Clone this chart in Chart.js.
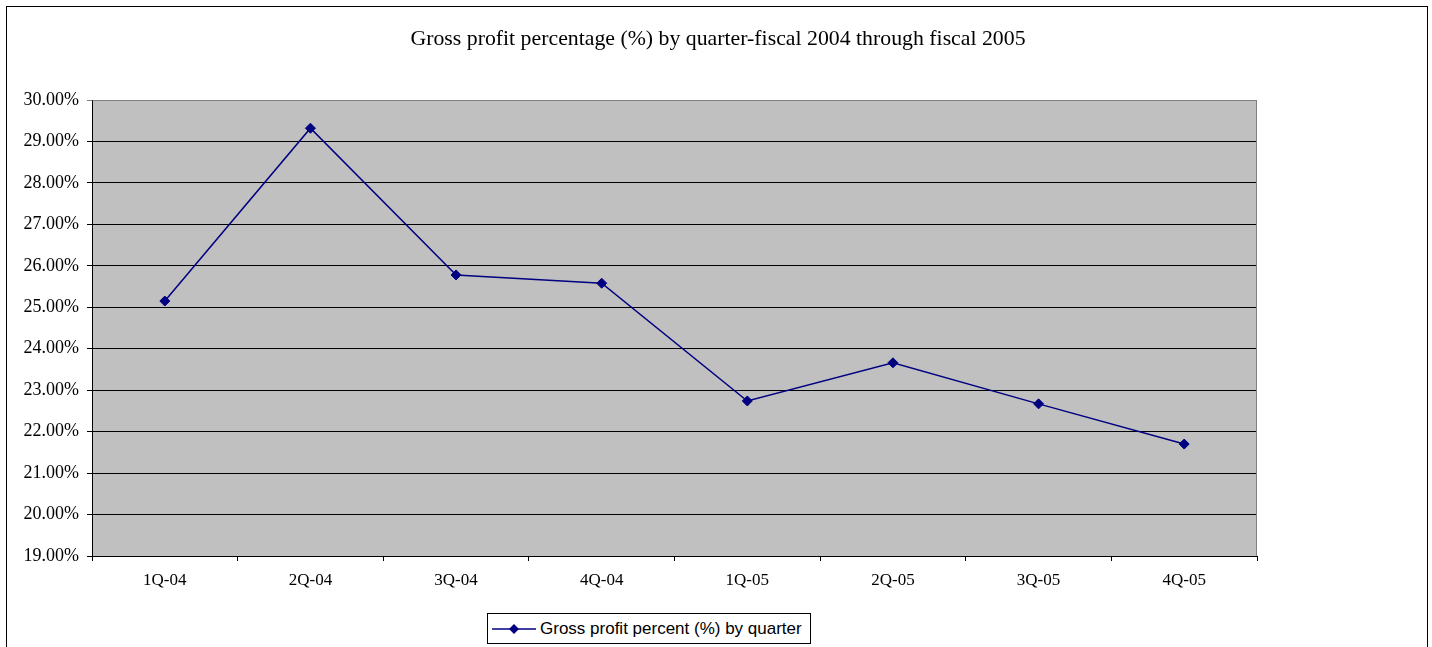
<!DOCTYPE html>
<html>
<head>
<meta charset="utf-8">
<script src="https://cdn.jsdelivr.net/npm/chart.js@4.4.1/dist/chart.umd.min.js"></script>
<style>
    body { margin: 0; width: 1432px; height: 647px; overflow: hidden; background: #fff; position: relative; }
    #frame { position: absolute; left: 6px; top: 6px; width: 1420px; height: 660px; border: 1px solid #000; }
    #title { position: absolute; left: 0; width: 1436px; top: 26px; text-align: center;
             font-family: "Liberation Serif", "Times New Roman", serif; font-size: 21.8px; color: #000; }
    #chartWrap { position: absolute; left: 0; top: 0; width: 1432px; height: 647px; }
    #legend { position: absolute; left: 487px; top: 613px; width: 324px; height: 31px; border: 1px solid #000;
              background: #fff; font-family: "Liberation Sans", Arial, sans-serif; font-size: 17px;
              display: flex; align-items: center; box-sizing: border-box; }
    #legend canvas { margin-left: 4px; margin-right: 4px; }
</style>
</head>
<body>
<div id="frame"></div>
<div id="chartWrap"><canvas id="gpChart" width="1432" height="647"></canvas></div>
<div id="title">Gross profit percentage (%) by quarter-fiscal 2004 through fiscal 2005</div>
<div id="legend"><canvas id="legendMark" width="44" height="12"></canvas><span>Gross profit percent (%) by quarter</span></div>

<script>
// quarters on the x axis
var quarters = ['1Q-04', '2Q-04', '3Q-04', '4Q-04', '1Q-05', '2Q-05', '3Q-05', '4Q-05'];
// gross profit %
var grossProfit = [25.15, 29.32, 25.78, 25.58, 22.74, 23.66, 22.67, 21.70];
var seriesLabel = 'Gross profit percent (%) by quarter';
var yMin = 19;
var yMax = 30;
var yStep = 1;

var lineColor = '#000080';
var serif = '"Liberation Serif", "Times New Roman", serif';

// grey plot area + grey top/right border like Excel
var plotArea = {
    id: 'plotArea',
    beforeDraw: function (chart) {
        var c = chart.ctx, a = chart.chartArea;
        c.save();
        c.fillStyle = '#C0C0C0';
        c.fillRect(a.left, a.top, a.right - a.left, a.bottom - a.top);
        c.restore();
    },
    afterDraw: function (chart) {
        var c = chart.ctx, a = chart.chartArea;
        c.save();
        c.strokeStyle = '#808080';
        c.lineWidth = 1;
        c.beginPath();
        c.moveTo(Math.round(a.left) + 0.5, Math.round(a.top) + 0.5);
        c.lineTo(Math.round(a.right) - 0.5, Math.round(a.top) + 0.5);
        c.lineTo(Math.round(a.right) - 0.5, Math.round(a.bottom));
        c.stroke();
        c.restore();
    }
};

var ctx = document.getElementById('gpChart').getContext('2d');
new Chart(ctx, {
    type: 'line',
    data: {
        labels: quarters,
        datasets: [{
            label: seriesLabel,
            data: grossProfit,
            borderColor: lineColor,
            backgroundColor: lineColor,
            borderWidth: 1.5,
            pointStyle: 'rectRot',
            pointRadius: 5,
            pointBorderWidth: 1,
            tension: 0
        }]
    },
    options: {
        responsive: false,
        animation: false,
        layout: {
            padding: { left: 0, right: 175, top: 100, bottom: 51 }
        },
        plugins: {
            legend: { display: false },
            title: { display: false },
            tooltip: { enabled: false }
        },
        scales: {
            x: {
                offset: true,
                grid: {
                    offset: true,
                    drawOnChartArea: false,
                    drawTicks: true,
                    tickLength: 5,
                    color: '#000'
                },
                border: { color: '#000', width: 1 },
                ticks: {
                    color: '#000',
                    padding: 9,
                    font: { family: serif, size: 17 }
                },
                afterFit: function (scale) { scale.height = 40; }
            },
            y: {
                min: yMin,
                max: yMax,
                grid: {
                    color: function (c) { return c.tick && c.tick.value === yMax ? '#808080' : '#000'; },
                    tickLength: 5,
                    drawTicks: true
                },
                border: { color: '#000', width: 1 },
                ticks: {
                    stepSize: yStep,
                    color: '#000',
                    padding: 8,
                    font: { family: serif, size: 18 },
                    callback: function (value) { return value.toFixed(2) + '%'; }
                },
                afterFit: function (scale) { scale.width = 92; }
            }
        }
    },
    plugins: [plotArea]
});

// small legend marker: line with a diamond
var lm = document.getElementById('legendMark').getContext('2d');
lm.strokeStyle = lineColor;
lm.lineWidth = 1.5;
lm.beginPath();
lm.moveTo(0, 6);
lm.lineTo(44, 6);
lm.stroke();
lm.fillStyle = lineColor;
lm.beginPath();
lm.moveTo(22, 1);
lm.lineTo(27, 6);
lm.lineTo(22, 11);
lm.lineTo(17, 6);
lm.closePath();
lm.fill();
</script>
</body>
</html>
